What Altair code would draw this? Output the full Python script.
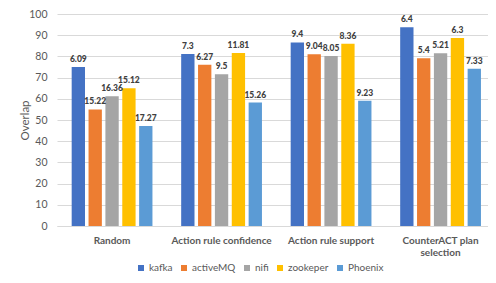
import altair as alt
import pandas as pd

categories = ["Random", "Action rule confidence", "Action rule support", "CounterACT plan selection"]
series = ["kafka", "activeMQ", "nifi", "zookeper", "Phoenix"]
colors = ["#4472C4", "#ED7D31", "#A5A5A5", "#FFC000", "#5B9BD5"]

kafka = [75.0, 81.1, 86.6, 93.7]
activeMQ = [55.0, 76.1, 81.0, 79.1]
nifi = [61.2, 71.6, 80.2, 81.5]
zookeper = [65.0, 81.6, 86.0, 88.7]
Phoenix = [47.2, 58.2, 59.1, 74.2]

kafka_lbl = ["6.09", "7.3", "9.4", "6.4"]
activeMQ_lbl = ["15.22", "6.27", "9.04", "5.4"]
nifi_lbl = ["16.36", "9.5", "8.05", "5.21"]
zookeper_lbl = ["15.12", "11.81", "8.36", "6.3"]
Phoenix_lbl = ["17.27", "15.26", "9.23", "7.33"]

y_ticks = [0, 10, 20, 30, 40, 50, 60, 70, 80, 90, 100]

vals = [kafka, activeMQ, nifi, zookeper, Phoenix]
lbls = [kafka_lbl, activeMQ_lbl, nifi_lbl, zookeper_lbl, Phoenix_lbl]

rows = []
for s, v, l in zip(series, vals, lbls):
    for c, vv, ll in zip(categories, v, l):
        rows.append({"category": c, "series": s, "value": vv, "label": ll})
df = pd.DataFrame(rows)

FONT = "Lato"
GREY = "#595959"

x = alt.X("category:N", sort=categories, title=None,
          scale=alt.Scale(paddingInner=0.23, paddingOuter=0.083, align=0.71),
          axis=alt.Axis(labelAngle=0, labelFont=FONT, labelFontSize=10, labelFontWeight="bold",
                        labelColor=GREY, ticks=False, labelPadding=9, domainColor="#d9d9d9",
                        labelLimit=200,
                        labelExpr="datum.value == 'CounterACT plan selection' ? ['CounterACT plan', 'selection'] : datum.value"))
xo = alt.XOffset("series:N", sort=series, scale=alt.Scale(paddingInner=0.21, paddingOuter=0.105))
y = alt.Y("value:Q", title="Overlap", scale=alt.Scale(domain=[0, 100]),
          axis=alt.Axis(values=y_ticks, labelFont=FONT, labelFontSize=10.5,
                        labelColor=GREY, ticks=False, domain=False, labelPadding=10,
                        labelOverlap=False, labelFlush=False, tickCount=11,
                        gridColor="#d9d9d9", titleFont=FONT, titleFontSize=11.5,
                        titleFontWeight="normal", titleColor=GREY, titleX=-27))

base = alt.Chart(df).encode(x=x, xOffset=xo, y=y)

bars = base.mark_bar().encode(
    color=alt.Color("series:N", sort=series, scale=alt.Scale(domain=series, range=colors),
                    legend=alt.Legend(title=None, orient="none", direction="horizontal",
                                      legendX=79, legendY=249, symbolType="square", symbolSize=36,
                                      symbolStrokeWidth=0, labelFont=FONT, labelFontSize=10,
                                      labelColor=GREY, columnPadding=6, symbolOffset=0,
                                      gridAlign="each", labelOffset=3, labelLimit=300)),
)

text = base.mark_text(dy=-8, font=FONT, fontSize=8.5, fontWeight=900, color="#404040").encode(
    text="label:N")

chart = (bars + text).properties(
    width=431, height=212,
    autosize=alt.AutoSizeParams(type="none"),
    padding={"left": 49, "top": 6, "right": 0, "bottom": 49},
).configure_view(stroke=None)

chart.save("out.html", embed_options={"renderer": "svg", "actions": False})
